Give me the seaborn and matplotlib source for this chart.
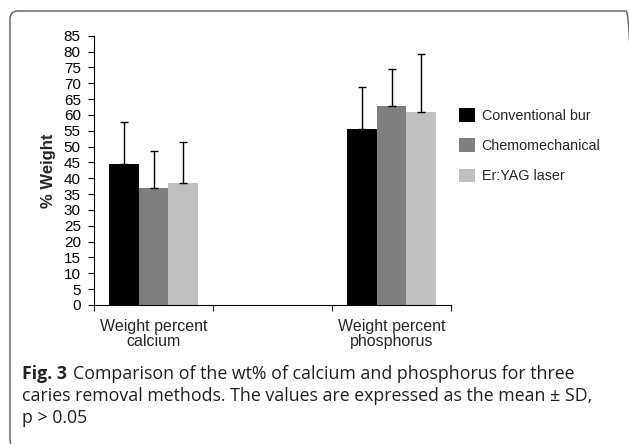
import numpy as np
import pandas as pd
import matplotlib
matplotlib.use("Agg")
import matplotlib.pyplot as plt
import seaborn as sns
from matplotlib.patches import FancyBboxPatch

# values (mean and upper SD, % weight)
elements = ["Weight percent\ncalcium", "Weight percent\nphosphorus"]
methods = ["Conventional bur", "Chemomechanical", "Er:YAG laser"]
calcium_mean = [44.5, 36.8, 38.6]
calcium_sd = [13.4, 11.8, 12.9]
phosphorus_mean = [55.7, 62.8, 61.0]
phosphorus_sd = [13.1, 11.8, 18.1]
bar_colors = ["#000000", "#7f7f7f", "#bfbfbf"]
y_ticks = list(range(0, 90, 5))

caption_bold = "Fig. 3"
caption_lines = [
    "Comparison of the wt% of calcium and phosphorus for three",
    "caries removal methods. The values are expressed as the mean \u00b1 SD,",
    "p > 0.05",
]

sns.set_style("white")
plt.rcParams["font.family"] = ["Liberation Sans", "DejaVu Sans"]

# long format table for seaborn, with an empty slot between the two groups
df = pd.DataFrame({
    "element": [elements[0]] * 3 + [elements[1]] * 3,
    "method": methods * 2,
    "mean": calcium_mean + phosphorus_mean,
    "sd": calcium_sd + phosphorus_sd,
})
order = [elements[0], "gap", elements[1]]

fig = plt.figure(figsize=(6.29, 4.44), dpi=100)
ax = fig.add_axes([94 / 629, 1 - 305 / 444, 357 / 629, 269.3 / 444])

sns.barplot(data=df, x="element", y="mean", hue="method", order=order,
            hue_order=methods, palette=bar_colors, saturation=1, width=0.75,
            errorbar=None, linewidth=0, ax=ax)

# plus-only error bars (SD)
for method, cont in zip(methods, ax.containers):
    for bar in cont:
        h = bar.get_height()
        if np.isnan(h):
            continue
        xc = bar.get_x() + bar.get_width() / 2
        el = elements[0] if xc < 1 else elements[1]
        sd = df.loc[(df["element"] == el) & (df["method"] == method), "sd"].iloc[0]
        ax.errorbar(xc, h, yerr=[[0], [sd]], fmt="none", ecolor="black",
                    elinewidth=1.0, capsize=3.2, capthick=1.0)

ax.set_ylim(0, 85)
ax.set_xlim(-0.5, 2.5)
ax.set_yticks(y_ticks)
ax.set_yticklabels([str(v) for v in y_ticks], fontsize=11)
ax.tick_params(axis="y", left=True, length=4.5, width=0.8, pad=5, colors="black")

ax.set_xticks([-0.5, 0.5, 1.5, 2.5])
ax.set_xticklabels([])
ax.tick_params(axis="x", which="major", bottom=True, length=4, width=0.8)
ax.set_xticks([0, 2], minor=True)
ax.set_xticklabels(elements, minor=True, fontsize=11.5, linespacing=1.05)
ax.tick_params(axis="x", which="minor", bottom=True, length=0, pad=10)

ax.set_xlabel("")
ax.set_ylabel("% Weight", fontsize=12, fontweight="bold")
ax.yaxis.set_label_coords(-0.106, 0.5)

for side in ["top", "right"]:
    ax.spines[side].set_visible(False)
for side in ["left", "bottom"]:
    ax.spines[side].set_color("black")
    ax.spines[side].set_linewidth(0.8)

handles, labels = ax.get_legend_handles_labels()
ax.legend(handles, labels, loc="upper left",
          bbox_to_anchor=(459 / 629, 1 - 108 / 444),
          bbox_transform=fig.transFigure, frameon=False, fontsize=10.3,
          handlelength=1.12, handleheight=1.12, handletextpad=0.46,
          labelspacing=1.08, borderpad=0, borderaxespad=0)

# caption
cap_font = ["Open Sans", "DejaVu Sans"]
cap_color = "#231f20"
cap_size = 12.8
x0 = 22 / 629
baselines = [379, 401, 423]
t_bold = fig.text(x0, 1 - baselines[0] / 444, caption_bold, fontsize=cap_size,
                  fontweight="bold", family=cap_font, color=cap_color,
                  va="baseline", ha="left")
fig.canvas.draw()
bb = t_bold.get_window_extent()
fig.text((bb.x1 + 6) / 629, 1 - baselines[0] / 444, caption_lines[0],
         fontsize=cap_size, family=cap_font, color=cap_color,
         va="baseline", ha="left")
for line, yb in zip(caption_lines[1:], baselines[1:]):
    fig.text(x0, 1 - yb / 444, line, fontsize=cap_size, family=cap_font,
             color=cap_color, va="baseline", ha="left")

# rounded frame around the figure, only the top-left corner shows
frame = FancyBboxPatch((0.10, -0.04), 6.24, 4.37,
                       boxstyle="round,pad=0,rounding_size=0.08",
                       transform=fig.dpi_scale_trans, fill=False,
                       edgecolor="#5a5a5a", linewidth=1.0, clip_on=False)
fig.patches.append(frame)

fig.savefig("out.png", dpi=100)
